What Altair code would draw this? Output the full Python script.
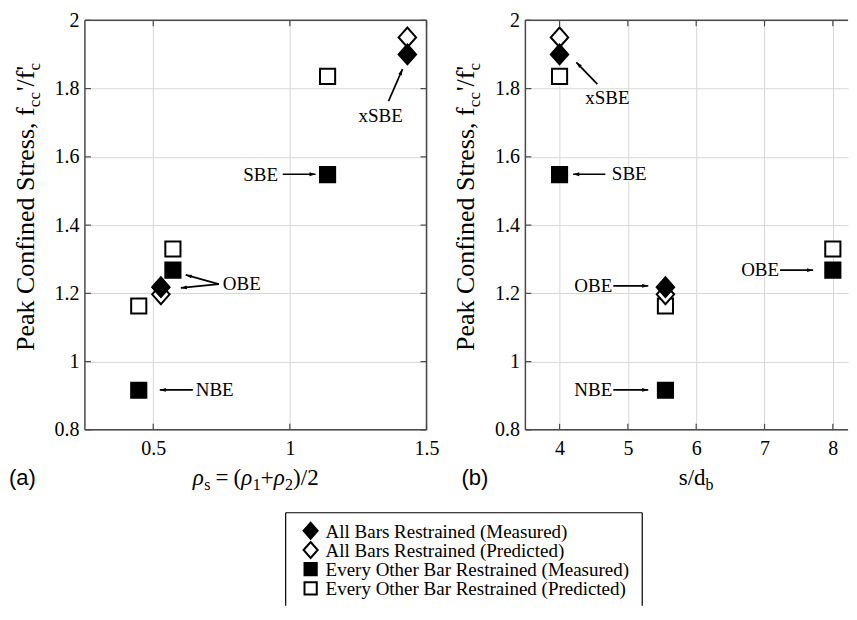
import math
import altair as alt
import pandas as pd

# ---------------- data ----------------
series_names = [
    "All Bars Restrained (Measured)",
    "All Bars Restrained (Predicted)",
    "Every Other Bar Restrained (Measured)",
    "Every Other Bar Restrained (Predicted)",
]

# panel (a): x = rho_s
a_allm_x = [0.528, 1.43]
a_allm_y = [1.218, 1.90]
a_allp_x = [0.528, 1.43]
a_allp_y = [1.197, 1.95]
a_eobm_x = [0.447, 0.572, 1.138]
a_eobm_y = [0.916, 1.268, 1.548]
a_eobp_x = [0.447, 0.572, 1.138]
a_eobp_y = [1.163, 1.330, 1.836]

# panel (b): x = s/d_b
b_allm_x = [4.0, 5.55]
b_allm_y = [1.90, 1.218]
b_allp_x = [4.0, 5.55]
b_allp_y = [1.95, 1.197]
b_eobm_x = [4.0, 5.55, 8.0]
b_eobm_y = [1.548, 0.916, 1.268]
b_eobp_x = [4.0, 5.55, 8.0]
b_eobp_y = [1.836, 1.163, 1.330]

# annotations (data coordinates)
a_lab_text = ["xSBE", "SBE", "OBE", "NBE"]
a_lab_x = [1.332, 0.893, 0.824, 0.725]
a_lab_y = [1.719, 1.546, 1.227, 0.917]
a_arr_x1 = [1.361, 0.974, 0.740, 0.740, 0.645]
a_arr_y1 = [1.763, 1.549, 1.227, 1.227, 0.917]
a_arr_x2 = [1.412, 1.094, 0.619, 0.601, 0.524]
a_arr_y2 = [1.857, 1.549, 1.254, 1.216, 0.917]

b_lab_text = ["xSBE", "SBE", "OBE", "NBE", "OBE"]
b_lab_x = [4.70, 5.02, 4.494, 4.494, 6.936]
b_lab_y = [1.772, 1.549, 1.222, 0.917, 1.268]
b_arr_x1 = [4.553, 4.67, 4.787, 4.787, 7.228]
b_arr_y1 = [1.813, 1.549, 1.222, 0.917, 1.268]
b_arr_x2 = [4.246, 4.20, 5.298, 5.298, 7.711]
b_arr_y2 = [1.877, 1.549, 1.222, 0.917, 1.268]

y_ticks = [0.8, 1.0, 1.2, 1.4, 1.6, 1.8, 2.0]
a_x_ticks = [0.5, 1.0, 1.5]
b_x_ticks = [4, 5, 6, 7, 8]
a_domain = [0.25, 1.5]
b_domain = [3.5, 8.222]
y_domain = [0.8, 2.0]

# ---------------- style ----------------
WA, WB, H = 342, 323, 410
SERIF = "Liberation Serif"
SANS = "Liberation Sans"
FRAME = "#4a4a4a"
DIAMOND = "M-1.15,0L0,-1.3L1.15,0L0,1.3Z"
HEAD = "M0,0L0.85,2.7L-0.85,2.7Z"

CW = {" ": .25, "'": .18, "/": .278, ",": .25, "P": .556, "e": .444, "a": .444,
      "k": .5, "C": .667, "o": .5, "n": .5, "f": .333, "i": .278, "d": .5,
      "S": .556, "t": .278, "r": .333, "s": .389, "c": .444, "b": .5,
      "ρ": .5, "=": .564, "(": .333, ")": .333, "+": .564, "1": .5, "2": .5}


def tw(s, size):
    return sum(CW.get(ch, 0.5) for ch in s) * size


shape_scale = alt.Scale(domain=series_names, range=[DIAMOND, DIAMOND, "square", "square"])
fill_scale = alt.Scale(domain=series_names, range=["black", "white", "black", "white"])


def points_df(ax, ay, bx, by, cx, cy, dx, dy):
    rows = []
    z = {0: 3, 1: 2, 2: 1, 3: 0}
    for k, (xs, ys) in enumerate([(ax, ay), (bx, by), (cx, cy), (dx, dy)]):
        for x, y in zip(xs, ys):
            rows.append({"x": x, "y": y, "series": series_names[k], "z": z[k]})
    return pd.DataFrame(rows)


def txt(t, x, y, size, font=SERIF, angle=0, italic=False, align="left", baseline="alphabetic"):
    return alt.Chart(pd.DataFrame({"t": [t]})).mark_text(
        font=font, fontSize=size, align=align, baseline=baseline, angle=angle,
        color="black", fontStyle="italic" if italic else "normal",
    ).encode(x=alt.value(x), y=alt.value(y), text="t:N")


def hrule(x1, x2, y, color=FRAME, w=1.5):
    return alt.Chart(pd.DataFrame({"a": [0]})).mark_rule(color=color, strokeWidth=w).encode(
        x=alt.value(x1), x2=alt.value(x2), y=alt.value(y))


def vrule(x, y1, y2, color=FRAME, w=1.5):
    return alt.Chart(pd.DataFrame({"a": [0]})).mark_rule(color=color, strokeWidth=w).encode(
        x=alt.value(x), y=alt.value(y1), y2=alt.value(y2))


def title_pieces_h(pieces, center_x, base_y, main=23, sub=16, shift=5):
    # pieces: (text, is_sub, italic, gap_before_em, gap_after_em)
    total = 0
    for t, s, it, g0, g1 in pieces:
        total += tw(t, sub if s else main) + (g0 + g1) * main
    x = center_x - total / 2
    layers = []
    for t, s, it, g0, g1 in pieces:
        fs = sub if s else main
        x += g0 * main
        layers.append(txt(t, x, base_y + (shift if s else 0), fs, italic=it))
        x += tw(t, fs) + g1 * main
    return layers


def ytitle_layers(base_x=-51, start_y=331, main=26, sub=17, shift=6):
    pieces = [("Peak Confined Stress, f", False), ("cc", True), ("'/f", False)]
    layers = []
    y = start_y
    for t, s in pieces:
        fs = sub if s else main
        layers.append(txt(t, base_x + (shift if s else 0), y, fs, angle=270))
        y -= tw(t, fs) + (1 if s else 0)
    layers.append(txt("c", base_x + shift, y, sub, angle=270))
    layers.append(txt("'", base_x, y, main, angle=270))
    return layers


def legend_layers():
    # legend drawn in panel (a) pixel space
    bx0, bx1, by0, by1 = 201, 558, 493, 586
    layers = [hrule(bx0, bx1, by0, "black", 1.2), vrule(bx0, by0, by1, "black", 1.2),
              vrule(bx1, by0, by1, "black", 1.2)]
    row_y = [511, 530.3, 549.5, 568.8]
    for name, yy in zip(series_names, row_y):
        layers.append(
            alt.Chart(pd.DataFrame({"series": [name]})).mark_point(
                filled=True, stroke="black", strokeWidth=2, opacity=1, size=150
            ).encode(x=alt.value(226), y=alt.value(yy),
                     shape=alt.Shape("series:N", scale=shape_scale, legend=None),
                     fill=alt.Fill("series:N", scale=fill_scale, legend=None))
        )
        layers.append(
            alt.Chart(pd.DataFrame({"series": [name]})).mark_text(
                font=SERIF, fontSize=19, align="left", baseline="middle", color="black"
            ).encode(x=alt.value(241), y=alt.value(yy + 1), text="series:N")
        )
    return layers


def panel(pts, domain, W, xticks, lab_t, lab_x, lab_y, x1, y1, x2, y2, xtitle_pieces, tag, first):
    xs = alt.Scale(domain=domain, nice=False, zero=False)
    ys = alt.Scale(domain=y_domain, nice=False, zero=False)
    grid_axis = dict(grid=True, gridColor="#d8d8d8", gridWidth=1, ticks=False, domain=False,
                     labelFont=SERIF, labelFontSize=20, labelColor="black", labelFlush=False,
                     labelOverlap=False, labelBound=False, format="~g", title=None)
    pts_layer = alt.Chart(pts).mark_point(
        filled=True, stroke="black", strokeWidth=2, opacity=1, size=230
    ).encode(
        x=alt.X("x:Q", scale=xs, axis=alt.Axis(values=xticks, labelPadding=9, **grid_axis)),
        y=alt.Y("y:Q", scale=ys, axis=alt.Axis(values=y_ticks, labelPadding=6, **grid_axis)),
        shape=alt.Shape("series:N", scale=shape_scale, legend=None),
        fill=alt.Fill("series:N", scale=fill_scale, legend=None),
        order=alt.Order("z:Q"),
    )
    # frame and inward ticks
    frame = [hrule(0, W, 0), hrule(0, W, H), vrule(0, 0, H)]
    if first:
        frame.append(vrule(W, 0, H))
    xt = pd.DataFrame({"v": xticks})
    yt = pd.DataFrame({"v": y_ticks})
    ticks = [
        alt.Chart(xt).mark_rule(color=FRAME, strokeWidth=1.2).encode(
            x=alt.X("v:Q", scale=xs), y=alt.value(H), y2=alt.value(H - 6)),
        alt.Chart(xt).mark_rule(color=FRAME, strokeWidth=1.2).encode(
            x=alt.X("v:Q", scale=xs), y=alt.value(0), y2=alt.value(6)),
        alt.Chart(yt).mark_rule(color=FRAME, strokeWidth=1.2).encode(
            y=alt.Y("v:Q", scale=ys), x=alt.value(0), x2=alt.value(6)),
    ]
    if first:
        ticks.append(alt.Chart(yt).mark_rule(color=FRAME, strokeWidth=1.2).encode(
            y=alt.Y("v:Q", scale=ys), x=alt.value(W - 6), x2=alt.value(W)))
    # arrows
    sx = W / (domain[1] - domain[0])
    sy = H / (y_domain[1] - y_domain[0])
    angs = []
    for a, b, c, d in zip(x1, y1, x2, y2):
        dxp = (c - a) * sx
        dyp = -(d - b) * sy
        angs.append(math.degrees(math.atan2(dxp, -dyp)) % 360)
    arr = pd.DataFrame({"x1": x1, "y1": y1, "x2": x2, "y2": y2, "ang": angs})
    rules = alt.Chart(arr).mark_rule(color="black", strokeWidth=1.7).encode(
        x=alt.X("x1:Q", scale=xs), y=alt.Y("y1:Q", scale=ys), x2="x2:Q", y2="y2:Q")
    heads = alt.Chart(arr).mark_point(shape=HEAD, filled=True, color="black", size=20, opacity=1).encode(
        x=alt.X("x2:Q", scale=xs), y=alt.Y("y2:Q", scale=ys), angle=alt.Angle("ang:Q", scale=None))
    labs = alt.Chart(pd.DataFrame({"x": lab_x, "y": lab_y, "t": lab_t})).mark_text(
        font=SERIF, fontSize=19, color="black", align="center", baseline="middle").encode(
        x=alt.X("x:Q", scale=xs), y=alt.Y("y:Q", scale=ys), text="t:N")
    layers = [pts_layer] + ticks + frame + [rules, heads, labs]
    layers.append(txt(tag, -76 if first else -64, 465, 22, font=SANS))
    layers += ytitle_layers()
    layers += title_pieces_h(xtitle_pieces, WA / 2 if first else 171, 465)
    if first:
        layers += legend_layers()
        layers.append(alt.Chart(pd.DataFrame({"a": [0]})).mark_rule(color="white", strokeWidth=0.5).encode(
            x=alt.value(-76), x2=alt.value(-75), y=alt.value(-11)))
    return alt.layer(*layers).properties(width=W, height=H)


pa = points_df(a_allm_x, a_allm_y, a_allp_x, a_allp_y, a_eobm_x, a_eobm_y, a_eobp_x, a_eobp_y)
pb = points_df(b_allm_x, b_allm_y, b_allp_x, b_allp_y, b_eobm_x, b_eobm_y, b_eobp_x, b_eobp_y)

a_title = [("ρ", False, True, 0, 0), ("s", True, False, 0, 0), ("=", False, False, 0.22, 0.22),
           ("(", False, False, 0, 0), ("ρ", False, True, 0, 0), ("1", True, False, 0, 0),
           ("+", False, False, 0, 0), ("ρ", False, True, 0, 0), ("2", True, False, 0, 0),
           (")/2", False, False, 0, 0)]
b_title = [("s/d", False, False, 0, 0), ("b", True, False, 0, 0)]

left = panel(pa, a_domain, WA, a_x_ticks, a_lab_text, a_lab_x, a_lab_y,
             a_arr_x1, a_arr_y1, a_arr_x2, a_arr_y2, a_title, "(a)", True)
right = panel(pb, b_domain, WB, b_x_ticks, b_lab_text, b_lab_x, b_lab_y,
              b_arr_x1, b_arr_y1, b_arr_x2, b_arr_y2, b_title, "(b)", False)

chart = alt.hconcat(left, right, spacing=99, bounds="flush").properties(
    padding=0, background="white"
).configure_view(stroke=None)

chart.save("out.html", embed_options={"renderer": "svg", "actions": False})
